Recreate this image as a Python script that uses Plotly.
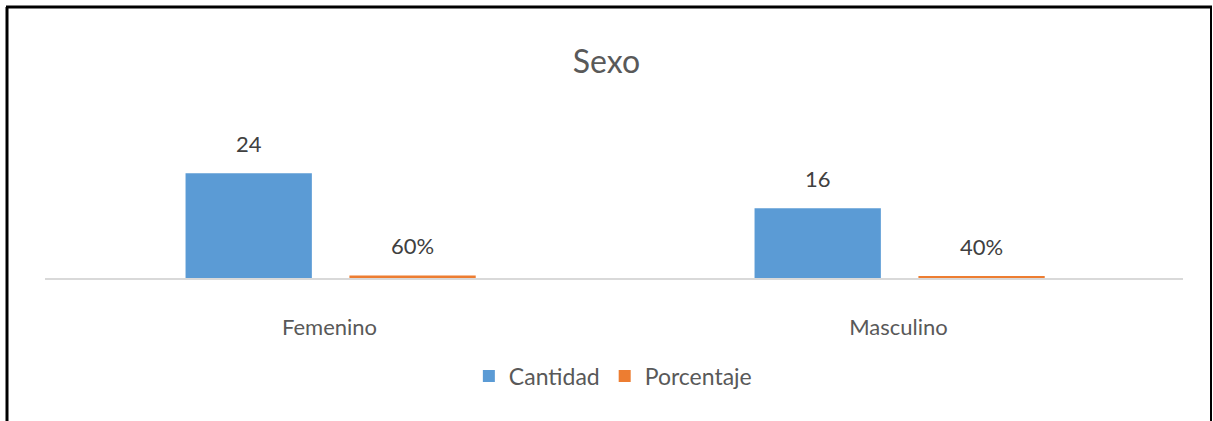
import plotly.graph_objects as go

categories = ["Femenino", "Masculino"]
cantidad = [24, 16]
porcentaje = [0.6, 0.4]
series_names = ["Cantidad", "Porcentaje"]
colors = ["#5B9BD5", "#ED7D31"]

W, H = 1213, 421
ML, MR, MT, MB = 45, 30, 147, 143
PW, PH = W - ML - MR, H - MT - MB

FONT = "Lato, Open Sans, sans-serif"

bar_w = 0.222
offsets = [-0.253, 0.035]

fig = go.Figure()
for name, vals, col, off in zip(series_names, [cantidad, porcentaje], colors, offsets):
    fig.add_trace(go.Bar(
        name=name, x=categories, y=vals, marker_color=col, marker_line_width=0,
        width=bar_w, offset=off,
    ))

# data labels
annotations = []
for i, cat in enumerate(categories):
    annotations.append(dict(x=i + offsets[0] + bar_w / 2, y=cantidad[i], xref="x", yref="y",
                            text=f"{cantidad[i]}", showarrow=False, yshift=30,
                            font=dict(size=22, color="#404040", family=FONT)))
    annotations.append(dict(x=i + offsets[1] + bar_w / 2, y=porcentaje[i], xref="x", yref="y",
                            text=f"{porcentaje[i]*100:.0f}%", showarrow=False, yshift=30,
                            font=dict(size=22, color="#404040", family=FONT)))


def px_x(p):
    return (p - ML) / PW


def px_y(p):
    return (H - MB - p) / PH


shapes = [
    dict(type="line", xref="paper", yref="paper", x0=px_x(7), x1=px_x(7), y0=px_y(7), y1=px_y(425),
         line=dict(color="black", width=3)),
    dict(type="line", xref="paper", yref="paper", x0=px_x(6), x1=px_x(1212), y0=px_y(7), y1=px_y(7),
         line=dict(color="black", width=3)),
    dict(type="line", xref="paper", yref="paper", x0=px_x(1211), x1=px_x(1211), y0=px_y(7), y1=px_y(425),
         line=dict(color="black", width=2)),
]

fig.update_layout(
    width=W, height=H,
    margin=dict(l=ML, r=MR, t=MT, b=MB),
    paper_bgcolor="white", plot_bgcolor="white",
    title=dict(text="Sexo", x=0.5, xanchor="center", y=1 - 62 / H, yanchor="middle",
               yref="container", font=dict(size=32, color="#595959", family=FONT)),
    showlegend=True,
    legend=dict(orientation="h", x=0.499, xanchor="center", y=px_y(376), yanchor="middle",
                font=dict(size=23, color="#595959", family=FONT), itemwidth=30),
    xaxis=dict(type="category", range=[-0.5, 1.5], showline=True, linecolor="#D9D9D9", linewidth=2,
               ticks="", showgrid=False, tickfont=dict(size=22, color="#595959", family=FONT),
               ticklabelstandoff=29),
    yaxis=dict(range=[0, 30], visible=False, showgrid=False, zeroline=False),
    annotations=annotations,
    shapes=shapes,
    bargap=0.5,
)

fig.write_html("out.html", config={"displayModeBar": False},
               post_script="document.body.style.margin='0';")
